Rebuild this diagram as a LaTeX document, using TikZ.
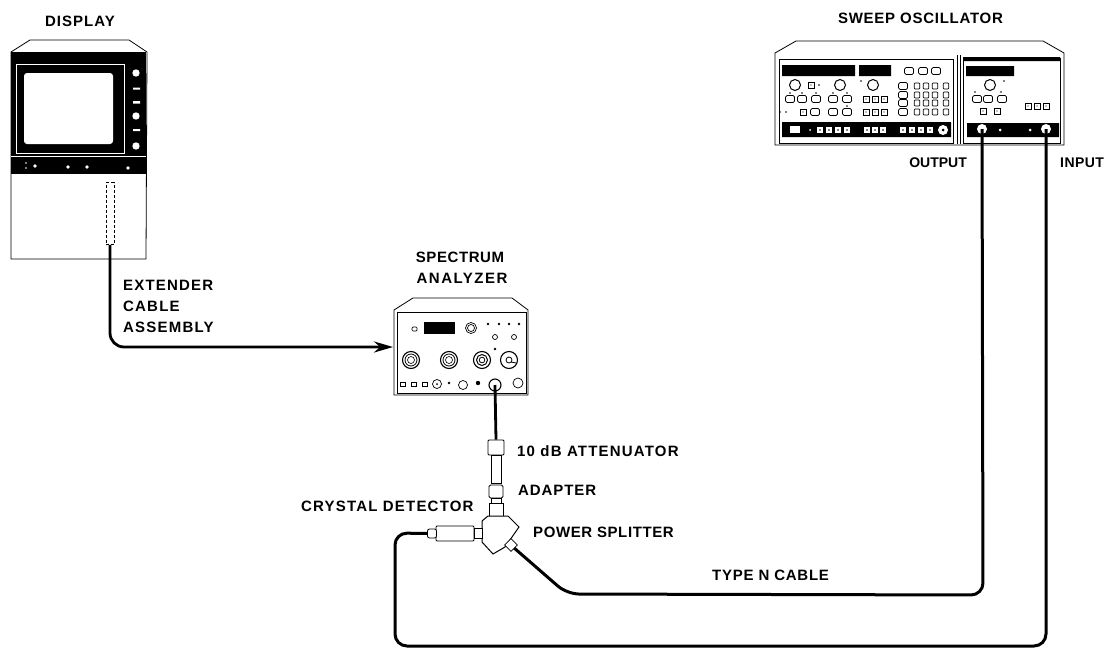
\documentclass[tikz,border=0pt]{standalone}
\usepackage{fontspec}
\setmainfont{Liberation Sans}
\usetikzlibrary{arrows.meta}
\tikzset{
  x=1pt,y=-1pt,
  lbls/.style n args={2}{inner sep=0pt,font=\fontsize{#1}{#1}\selectfont\bfseries\addfontfeature{LetterSpace=#2}},
  outl/.style={draw=black,line width=.8pt,fill=white},
  blk/.style={fill=black,draw=none},
  thin1/.style={draw=black,line width=.7pt,fill=white},
  cable/.style={draw=black,line width=3pt,rounded corners=12pt},
  cabl/.style={draw=black,line width=2.8pt},
}
\newcommand{\pbtn}[2]{\draw[thin1,rounded corners=1.5pt] (#1-4.5,#2-3.5) rectangle (#1+4.5,#2+3.5);}
\newcommand{\psq}[2]{\draw[draw=black,line width=.8pt,fill=white] (#1-3,#2-3) rectangle (#1+3,#2+3);\fill (#1,#2) circle (.6);}
\newcommand{\pdot}[2]{\fill (#1,#2) circle (1.3);}
\newcommand{\wsq}[2]{\fill[white] (#1-3,#2-3) rectangle (#1+3,#2+3);\fill (#1,#2) circle (.8);}
\begin{document}
\begin{tikzpicture}
\useasboundingbox (0,0) rectangle (1105,648);
% ---------- DISPLAY
\draw[outl] (11,52) -- (30,40) -- (129,40) -- (147,52) -- (146,259) -- (11,259) -- cycle;
\fill[blk] (11,52) rectangle (146,174);
\draw[white,line width=.8pt] (16,64) rectangle (124,153);
\draw[white,line width=.8pt] (11,156) -- (146,156);
\fill[white,rounded corners=3pt] (24,73) rectangle (113,144);
\fill[white] (136,73) circle (3.7) (136,116) circle (3.7) (136,146) circle (3.7);
\fill[white] (133,87.5) rectangle (140,89.5) (133,101) rectangle (140,103.5) (133,129) rectangle (140,131);
\fill[white] (35,166) circle (1.8) (68,167) circle (1.8) (87,167) circle (1.8) (128,168) circle (1.8) (26,163) circle (.8) (26,168) circle (.8);
\node (tube) [draw=black,densely dashed,line width=.6pt,minimum width=8pt,minimum height=62pt,inner sep=0pt] at (110,213.5) {};
% ---------- SPECTRUM ANALYZER
\draw[outl] (394,310) -- (413,298) -- (512,298) -- (528,310) -- (528,395) -- (394,395) -- cycle;
\draw[line width=.7pt] (397,312) rectangle (526,393);
\draw[thin1,rounded corners=1pt] (412,327) rectangle (417,331);
\fill[blk] (424,322) rectangle (455,334);
\draw[thin1] (471,328) circle (5.5);
\draw[line width=.7pt] (471,328) circle (3.5);
\foreach \p in {488,499,509,519}{\pdot{\p}{324}}
\draw[thin1] (495,337) circle (2.5) (514,337) circle (2.5);
\pdot{495}{349}
\foreach \p in {411,449}{\draw[thin1,line width=1.1pt] (\p,360) circle (8.5);\draw[line width=.8pt] (\p,360) circle (6);\draw[line width=.6pt] (\p,360) circle (3.5);}
\draw[thin1,line width=1.1pt] (482,360) circle (8.5);\draw[line width=1pt] (482,360) circle (5.5);\draw[line width=.8pt] (482,360) circle (2.8);
\draw[thin1,line width=1.1pt] (509,360) circle (8.5);\draw[line width=.8pt] (509,360) circle (3) (511,362) -- (516,363);
\foreach \p in {403,414,425}{\draw[thin1] (\p-2.5,382.5) rectangle (\p+2.5,386);}
\draw[thin1] (437,384) circle (4.5);\fill (437,384) circle (1);
\pdot{449}{383}
\draw[thin1] (463,385) circle (4.5);
\fill (478,383) circle (2.2);
\draw[thin1,line width=1.1pt] (495,385) circle (6);
\draw[thin1] (518,383) circle (5);
% ---------- SWEEP OSCILLATOR
\draw[outl] (775,53) -- (796,41) -- (1043,41) -- (1064,53) -- (1064,145) -- (775,145) -- cycle;
\draw[line width=.8pt] (779,59) rectangle (953,143);
\draw[line width=.8pt] (957,55) -- (957,144) (960,55) -- (960,144);
\draw[line width=.8pt] (963,58) rectangle (1060,143);
\fill[blk] (782,65) rectangle (855,76) (859,65) rectangle (891,76) (963,57) rectangle (1060,61) (966,66) rectangle (1014,76) (782,122) rectangle (951,137) (967,123) rectangle (1059,137);
\foreach \p in {795,840,873,990}{\draw[thin1,line width=1pt] (\p,85) circle (5.5);}
\psq{811}{85}
\foreach \x/\y in {819/85,861/81,790/93,802/93,816/93,833/93,847/93,780/112,786/112,847/106,975/92,1004/81,1001/92}{\fill (\x,\y) circle (.9);}
\foreach \p in {909,923,936}{\pbtn{\p}{71}}
\foreach \p in {790,802,816,833,847,977,988,1002}{\pbtn{\p}{99}}
\foreach \p in {803}{\psq{\p}{112}}
\foreach \p in {815,833,847}{\pbtn{\p}{112}}
\foreach \p in {866,875,884}{\psq{\p}{99}\psq{\p}{112}}
\foreach \y in {86,95,103,112}{\pbtn{903}{\y}\foreach \p in {917,926,935,946}{\draw[thin1,rounded corners=1pt] (\p-2.8,\y-3) rectangle (\p+2.8,\y+3);}}
\psq{983}{111}\psq{997}{111}
\foreach \p in {1028,1037,1046}{\psq{\p}{106}}
\fill[white] (790,126) rectangle (800,133);
\foreach \p in {810}{\fill[white] (\p,130) circle (1);}
\foreach \p in {820,829,838,847,867,875,883,903,912,921,930}{\wsq{\p}{130}}
\fill[white] (943,130) circle (5);\fill (943,130) circle (1.5);
\fill[white] (1000,130) circle (1.5) (1030,130) circle (1.5);
\fill[white] (982,129) circle (5) (1046,129) circle (5);
% ---------- Port coordinates and cables (drawn below the connector bodies)
\coordinate (tubeb) at (tube.south);
\coordinate (sain) at (393,347);
\coordinate (saout) at (495,385);
\coordinate (oscout) at (982,129);
\coordinate (oscin) at (1046,129);
\coordinate (typebend) at (567,594);
\coordinate (typecorner) at (983,595);
\coordinate (detcorner) at (395,533);
\coordinate (lowleft) at (395,646);
\coordinate (lowright) at (1046,646);
% ---------- Attenuator stack and splitter
\node (conn) [outl,minimum width=16pt,minimum height=15pt,inner sep=0pt,rounded corners=1pt] at (496,447.5) {};
\node (atten) [outl,minimum width=10pt,minimum height=28pt,inner sep=0pt] at (496,469.5) {};
\node (adapt) [outl,minimum width=14pt,minimum height=13pt,inner sep=0pt,rounded corners=1.5pt] at (496,491.5) {};
\node (neck) [outl,minimum width=10pt,minimum height=5pt,inner sep=0pt] at (496,500.5) {};
\node (collar) [outl,minimum width=14pt,minimum height=14pt,inner sep=0pt] at (496,510) {};
\draw[outl,line width=1pt] (482,521) -- (488,516) -- (508,516) -- (519,527) -- (505,547) -- (493,554) -- (482,542) -- cycle;
\draw[cable] (513,547) -- (typebend) -- (typecorner) -- (oscout);
\node (port) [outl,minimum width=9pt,minimum height=9pt,inner sep=0pt,rotate=45] at (511,545) {};
\node (det) [outl,minimum width=38pt,minimum height=15pt,inner sep=0pt,rounded corners=1pt] at (455,533.5) {};
\node (nose) [outl,minimum width=9pt,minimum height=9pt,inner sep=0pt,rounded corners=2pt] at (432,533.5) {};
\node (dcol) [outl,minimum width=8pt,minimum height=10pt,inner sep=0pt] at (478,533.5) {};
\draw[cabl,rounded corners=14pt,-{Stealth[length=19pt,width=11pt]}] (tubeb) -- (tube.south |- sain) -- (sain);
\draw[cabl] (saout) -- (conn.north);
\draw[cable] (nose.west) -- (detcorner) -- (lowleft) -- (lowright) -- (oscin);
% ---------- Labels
\node (t1) [lbls={15}{7}] at (80,21.5) {DISPLAY};
\node (t2) [lbls={15}{5}] at (920.5,18) {SWEEP OSCILLATOR};
\node (t3) [lbls={14}{0},anchor=east] at (967,163) {OUTPUT};
\node (t4) [lbls={14}{3},anchor=west] at (1060,163) {INPUT};
\node (t5) [lbls={15}{4}] at (460,257) {SPECTRUM};
\node (t6) [lbls={15}{10}] at (462,278) {ANALYZER};
\node (t7) [lbls={15}{8},anchor=west] at (123,285) {EXTENDER};
\node (t8) [lbls={15}{8},anchor=west] at (123,306) {CABLE};
\node (t9) [lbls={15}{8},anchor=west] at (123,327) {ASSEMBLY};
\node (t10) [lbls={15}{8},anchor=west] at (517,451) {10 dB ATTENUATOR};
\node (t11) [lbls={15}{6},anchor=west] at (518,490) {ADAPTER};
\node (t12) [lbls={15}{8},anchor=west] at (301,506) {CRYSTAL DETECTOR};
\node (t13) [lbls={15}{4},anchor=west] at (533,532) {POWER SPLITTER};
\node (t14) [lbls={15}{5},anchor=west] at (712,575) {TYPE N CABLE};
\end{tikzpicture}
\end{document}
